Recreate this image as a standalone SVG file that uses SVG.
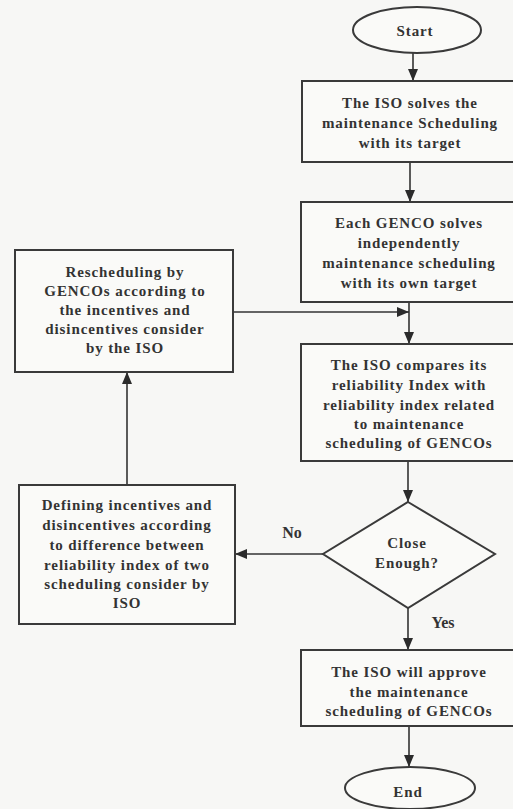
<svg xmlns="http://www.w3.org/2000/svg" width="513" height="809" viewBox="0 0 513 809">
<defs>
<marker id="ah" viewBox="0 0 12 10" refX="12" refY="5" markerWidth="12" markerHeight="10" markerUnits="userSpaceOnUse" orient="auto">
<path d="M0,0 L12,5 L0,10 Z" fill="#2b2b2b"/>
</marker>
<style>
.box{fill:#fafaf8;stroke:#3a3a3a;stroke-width:2}
.t{font-family:"Liberation Serif","Times New Roman",serif;font-weight:bold;font-size:15px;fill:#333;text-anchor:middle;letter-spacing:0.9px}
.lbl{font-family:"Liberation Serif","Times New Roman",serif;font-weight:bold;font-size:16px;fill:#333;text-anchor:middle}
.c{fill:none;stroke:#333;stroke-width:1.6;marker-end:url(#ah)}
</style>
</defs>
<rect width="513" height="809" fill="#f7f7f5"/>
<g id="connectors">
<line class="c" x1="413" y1="53" x2="413" y2="81"/>
<line class="c" x1="410" y1="162" x2="410" y2="202"/>
<line class="c" x1="409" y1="302" x2="409" y2="344"/>
<line class="c" x1="233" y1="312" x2="409" y2="312"/>
<line class="c" x1="408" y1="461" x2="408" y2="502"/>
<line class="c" x1="323" y1="554" x2="235" y2="554"/>
<line class="c" x1="127" y1="485" x2="127" y2="372"/>
<line class="c" x1="408" y1="608" x2="408" y2="650"/>
<line class="c" x1="409" y1="726" x2="409" y2="767"/>
<text class="lbl" x="292" y="538">No</text>
<text class="lbl" x="443" y="628">Yes</text>
</g>
<g id="start">
<ellipse class="box" cx="417" cy="30" rx="64" ry="23"/>
<text class="t" x="415" y="36">Start</text>
</g>
<g id="iso-solves">
<rect class="box" x="302" y="81" width="214" height="81"/>
<text class="t" x="410" y="108">The ISO solves the</text>
<text class="t" x="410" y="128">maintenance Scheduling</text>
<text class="t" x="410" y="148">with its target</text>
</g>
<g id="genco-solves">
<rect class="box" x="301" y="202" width="215" height="100"/>
<text class="t" x="409" y="228">Each GENCO solves</text>
<text class="t" x="409" y="248">independently</text>
<text class="t" x="409" y="268">maintenance scheduling</text>
<text class="t" x="409" y="288">with its own target</text>
</g>
<g id="iso-compares">
<rect class="box" x="301" y="344" width="215" height="117"/>
<text class="t" x="409" y="370">The ISO compares its</text>
<text class="t" x="409" y="390">reliability Index with</text>
<text class="t" x="409" y="410">reliability index related</text>
<text class="t" x="409" y="429">to maintenance</text>
<text class="t" x="409" y="448">scheduling of GENCOs</text>
</g>
<g id="decision">
<polygon class="box" points="408,502 495,554 408,608 323,554"/>
<text class="t" x="407" y="548">Close</text>
<text class="t" x="407" y="568">Enough?</text>
</g>
<g id="approve">
<rect class="box" x="301" y="650" width="215" height="76"/>
<text class="t" x="409" y="677">The ISO will approve</text>
<text class="t" x="409" y="697">the maintenance</text>
<text class="t" x="409" y="716">scheduling of GENCOs</text>
</g>
<g id="end">
<ellipse class="box" cx="410" cy="788" rx="65" ry="21"/>
<text class="t" x="408" y="797">End</text>
</g>
<g id="rescheduling">
<rect class="box" x="15" y="250" width="218" height="122"/>
<text class="t" x="125" y="277">Rescheduling by</text>
<text class="t" x="125" y="296">GENCOs according to</text>
<text class="t" x="125" y="315">the incentives and</text>
<text class="t" x="125" y="334">disincentives consider</text>
<text class="t" x="125" y="353">by the ISO</text>
</g>
<g id="defining">
<rect class="box" x="19" y="485" width="216" height="139"/>
<text class="t" x="127" y="510">Defining incentives and</text>
<text class="t" x="127" y="530">disincentives according</text>
<text class="t" x="127" y="550">to difference between</text>
<text class="t" x="127" y="570">reliability index of two</text>
<text class="t" x="127" y="589">scheduling consider by</text>
<text class="t" x="127" y="608">ISO</text>
</g>
</svg>
